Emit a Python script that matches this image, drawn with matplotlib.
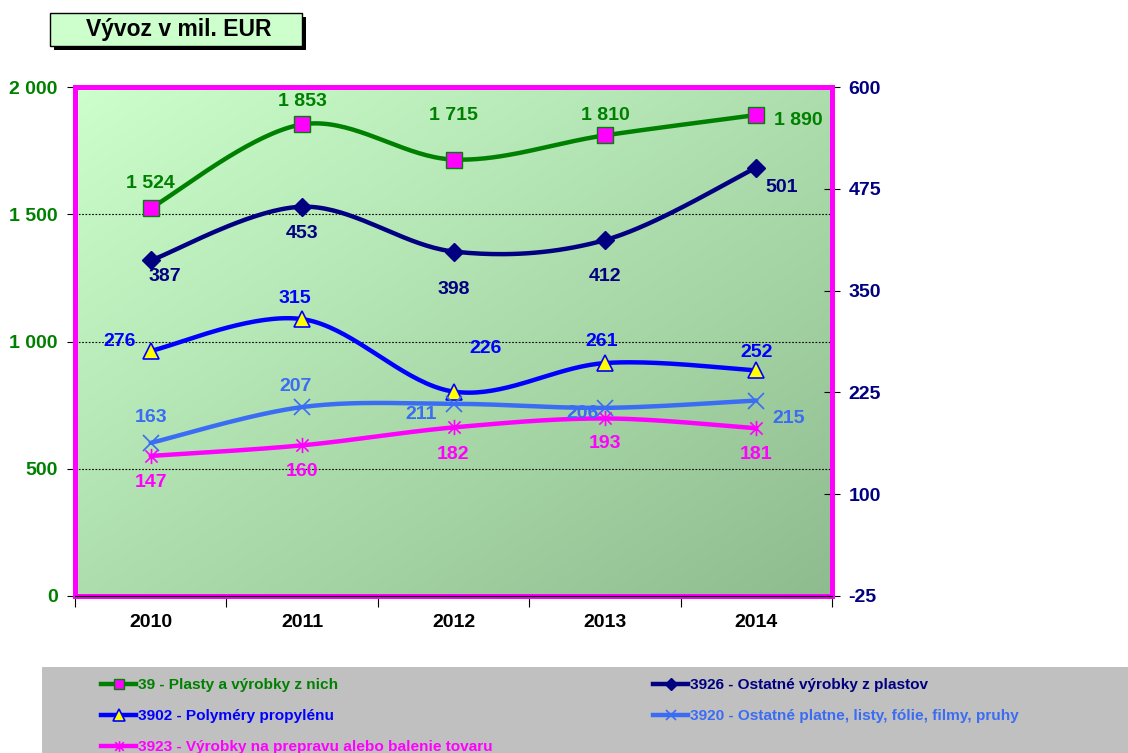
import numpy as np
import matplotlib
matplotlib.use("Agg")
import matplotlib.pyplot as plt
from matplotlib.lines import Line2D
from matplotlib.patches import Rectangle
from matplotlib.path import Path

plt.rcParams['font.family'] = ['Liberation Sans', 'DejaVu Sans']
plt.rcParams['font.weight'] = 'bold'

years = ['2010', '2011', '2012', '2013', '2014']
s39 = [1524, 1853, 1715, 1810, 1890]
s3926 = [387, 453, 398, 412, 501]
s3902 = [276, 315, 226, 261, 252]
s3920 = [163, 207, 211, 206, 215]
s3923 = [147, 160, 182, 193, 181]
names = ['39 - Plasty a výrobky z nich',
         '3926 - Ostatné výrobky z plastov',
         '3902 - Polyméry propylénu',
         '3920 - Ostatné platne, listy, fólie, filmy, pruhy',
         '3923 - Výrobky na prepravu alebo balenie tovaru']
left_ticks = [0, 500, 1000, 1500, 2000]
right_ticks = [-25, 100, 225, 350, 475, 600]
title = 'Vývoz v mil. EUR'

# label offsets in pixels (dx, dy)
off39 = [(0, 25), (0, 23), (0, 44), (0, 20), (42, -6)]
off3926 = [(14, -16), (0, -27), (0, -38), (0, -36), (25, -20)]
off3902 = [(-31, 9), (-7, 21), (32, 43), (-3, 22), (0, 18)]
off3920 = [(0, 25), (-7, 21), (-32, -11), (-22, -6), (32, -18)]
off3923 = [(0, -27), (0, -26), (0, -27), (0, -25), (0, -26)]

star = Path([(0, -1), (0, 1), (-0.8, -0.8), (0.8, 0.8), (-0.8, 0.8), (0.8, -0.8)],
            [Path.MOVETO, Path.LINETO, Path.MOVETO, Path.LINETO, Path.MOVETO, Path.LINETO])


def smooth(x, y, n=40):
    pts = np.column_stack([x, y]).astype(float)
    P = np.vstack([pts[0], pts, pts[-1]])
    out = []
    t = np.linspace(0, 1, n)[:, None]
    for i in range(1, len(P) - 2):
        p0, p1, p2, p3 = P[i - 1], P[i], P[i + 1], P[i + 2]
        seg = 0.5 * ((2 * p1) + (-p0 + p2) * t + (2 * p0 - 5 * p1 + 4 * p2 - p3) * t ** 2
                     + (-p0 + 3 * p1 - 3 * p2 + p3) * t ** 3)
        out.append(seg)
    return np.vstack(out)


W, H = 1128, 753
fig = plt.figure(figsize=(W / 100, H / 100), dpi=100)
L, R, T, B = 75, 832, 87, 596
ax = fig.add_axes([L / W, 1 - B / H, (R - L) / W, (B - T) / H])
ax2 = ax.twinx()

x = np.arange(len(years))
ax.set_xlim(-0.5, len(years) - 0.5)
ax.set_ylim(0, 2000)
ax2.set_ylim(-25, 600)

# gradient background: light at top-left, darker at bottom-right
gx, gy = np.meshgrid(np.linspace(0, 1, 200), np.linspace(0, 1, 200))
g = (gx + gy) / 2
c0 = np.array([0xcc, 0xff, 0xcc]) / 255
c1 = np.array([0x8f, 0xbc, 0x8f]) / 255
img = c0[None, None, :] * (1 - g[..., None]) + c1[None, None, :] * g[..., None]
ax.imshow(img, extent=[-0.5, len(years) - 0.5, 0, 2000], aspect='auto', origin='upper', zorder=0)

for v in left_ticks[1:-1]:
    ax.axhline(v, color='black', lw=0.8, ls=(0, (1.5, 1.5)), zorder=1)

lw = 3.2
styles = [
    (ax, s39, '#008000', dict(marker='s', ms=11, mfc='#ff00ff', mec='#008000', mew=1), off39, '#008000'),
    (ax2, s3926, '#000080', dict(marker='D', ms=9, mfc='#000080', mec='#000080'), off3926, '#000080'),
    (ax2, s3902, '#0000ff', dict(marker='^', ms=12, mfc='#ffff00', mec='#0000ff', mew=1.2), off3902, '#0000ff'),
    (ax2, s3920, '#3a6cf4', dict(marker='x', ms=11, mec='#3a6cf4', mew=1.2), off3920, '#3a6cf4'),
    (ax2, s3923, '#ff00ff', dict(marker=star, ms=11, mec='#ff00ff', mew=1.2), off3923, '#ff00ff'),
]
handles = []
for a, vals, col, mk, offs, tcol in styles:
    sm = smooth(x, vals)
    a.plot(sm[:, 0], sm[:, 1], color=col, lw=lw, zorder=3, solid_capstyle='round')
    a.plot(x, vals, ls='none', zorder=4, **mk)
    for xi, v, (dx, dy) in zip(x, vals, offs):
        lab = f'{v:,}'.replace(',', ' ')
        a.annotate(lab, (xi, v), xytext=(dx * 0.72, dy * 0.72), textcoords='offset points',
                   ha='center', va='center', color=tcol, fontsize=14, fontweight='bold', zorder=5)
    mk2 = dict(mk)
    mk2['ms'] = mk['ms'] * 0.7
    handles.append(Line2D([], [], color=col, lw=lw, **mk2))

ax2.set_zorder(ax.get_zorder() + 1)
ax2.patch.set_visible(False)

for a in (ax, ax2):
    for s in a.spines.values():
        s.set_color('#ff00ff')
        s.set_linewidth(3.5)
ax2.axhline(-25, color='black', lw=0.9, zorder=10, clip_on=False)

ax.set_yticks(left_ticks)
ax.set_yticklabels([f'{v:,}'.replace(',', ' ') for v in left_ticks], color='#008000',
                   fontsize=14, fontweight='bold')
ax.tick_params(axis='y', direction='out', length=6, width=0.8, color='black', pad=6.5)
ax2.set_yticks(right_ticks)
ax2.set_yticklabels([str(v) for v in right_ticks], color='#000080', fontsize=14, fontweight='bold')
ax2.tick_params(axis='y', direction='inout', length=12, width=0.8, color='black', pad=6)

ax.set_xticks(x)
ax.set_xticklabels(years, fontsize=14, fontweight='bold', color='black')
ax.set_xticks(np.arange(-0.5, len(years)), minor=True)
ax.tick_params(axis='x', which='major', length=0, pad=13)
ax.tick_params(axis='x', which='minor', direction='out', length=8, width=0.8, color='black')

# title box
fig.patches.append(Rectangle((54 / W, 1 - 50 / H), 252 / W, 33 / H, transform=fig.transFigure,
                             facecolor='black', edgecolor='none', zorder=0))
fig.patches.append(Rectangle((50 / W, 1 - 46 / H), 252 / W, 33 / H, transform=fig.transFigure,
                             facecolor='#ccffcc', edgecolor='black', lw=1, zorder=1))
fig.text(179 / W, 1 - 29.5 / H, title, ha='center', va='center', fontsize=16.5, fontweight='bold',
         color='black', zorder=2)

# legend area
fig.patches.append(Rectangle((42 / W, 0), (W - 42) / W, 86 / H, transform=fig.transFigure,
                             facecolor='#c0c0c0', edgecolor='none', zorder=0))
order1 = [0, 2, 4]
order2 = [1, 3]
legkw = dict(loc='upper left', frameon=False, handlelength=2.3, handletextpad=0.1,
             labelspacing=1.1, numpoints=1, prop={'weight': 'bold', 'size': 11.1},
             borderaxespad=0, borderpad=0)
leg1 = fig.legend([handles[i] for i in order1], [names[i] for i in order1],
                  bbox_to_anchor=(101 / W, 1 - 678 / H), **legkw)
for t, i in zip(leg1.get_texts(), order1):
    t.set_color(styles[i][5])
leg2 = fig.legend([handles[i] for i in order2], [names[i] for i in order2],
                  bbox_to_anchor=(653 / W, 1 - 678 / H), **legkw)
for t, i in zip(leg2.get_texts(), order2):
    t.set_color(styles[i][5])

fig.savefig('out.png', dpi=100)
